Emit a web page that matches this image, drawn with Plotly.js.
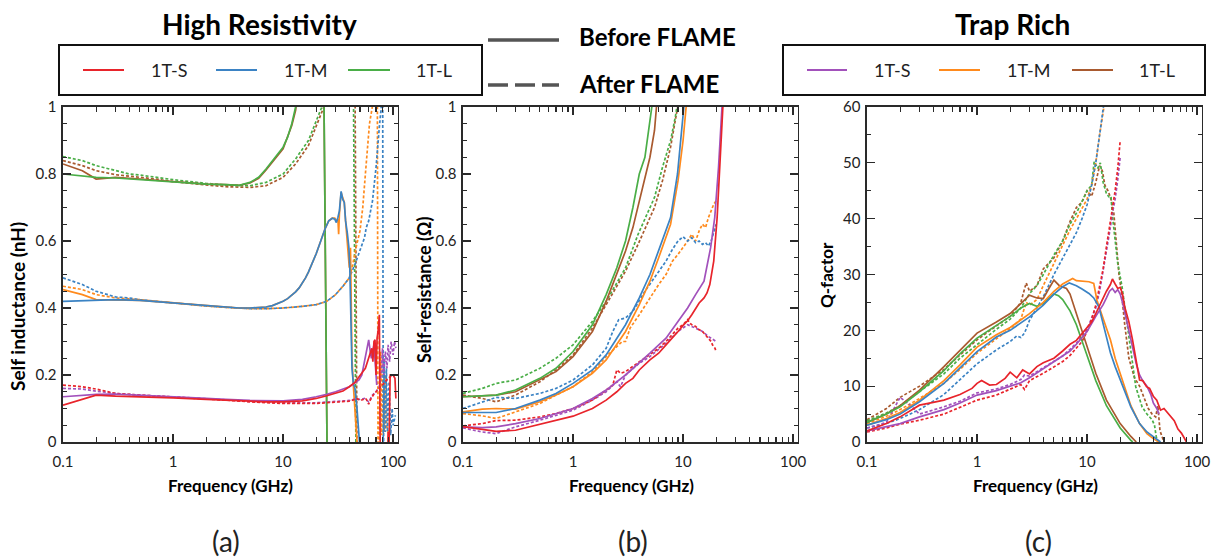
<!DOCTYPE html>
<html><head><meta charset="utf-8">
<script src="https://cdn.plot.ly/plotly-3.0.1.min.js"></script>
<style>html,body{margin:0;padding:0;background:#fff}#chart{width:1218px;height:559px}</style>
</head><body><div id="chart"></div>
<script>
// ---------- colours / series names ----------
const seriesNames = ['1T-S','1T-M','1T-L'];
const colHR = ['#e8242b','#3b83c4','#4aae47'];   // High Resistivity: S, M, L
const colTR = ['#a251bb','#ff8a1d','#a95a2f'];   // Trap Rich: S, M, L

// ================= (a) Self inductance (nH) =================
const a_hrS_pre_f = [0.1,0.2,0.3,0.5,1,2,3,5,7,10,15,20,25,30,35,40,43,45,48,50,53,56,58,60,62,64,65.5,67,68.5,70,71.5,73,75,76,77,88,90,92,94,100,104,106];
const a_hrS_pre   = [0.11,0.14,0.137,0.135,0.132,0.127,0.124,0.122,0.12,0.12,0.123,0.13,0.138,0.145,0.152,0.165,0.172,0.178,0.19,0.2,0.21,0.22,0.235,0.25,0.265,0.28,0.24,0.3,0.305,0.2,0.31,0.33,0.38,0.1,-0.2,-0.2,0.03,0.0,0.2,0.2,0.19,0.13];
const a_hrS_post_f = [0.1,0.15,0.2,0.3,0.5,1,2,3,5,10,20,30,40,44,46,48,50,53,55,57,59,60,62,64,66,70,75,80,85,90,95,100,106];
const a_hrS_post   = [0.17,0.165,0.158,0.145,0.14,0.135,0.13,0.125,0.12,0.115,0.115,0.118,0.122,0.126,0.13,0.128,0.125,0.126,0.13,0.128,0.115,0.113,0.125,0.135,0.14,0.15,0.16,0.17,0.18,0.19,0.195,0.2,0.2];
const a_hrM_pre_f = [0.1,0.2,0.3,0.5,1,2,3,4,5,6,7,8,9,10,11,12,13,14,15,16,17,18,19,20,22,24,26,28,29.5,30.5,31.5,32.5,33.7,34.8,36,37,38.4,39.6,40.4,41.2,42.3,43.5,45,47,49,52];
const a_hrM_pre   = [0.42,0.423,0.425,0.423,0.415,0.408,0.403,0.4,0.4,0.401,0.403,0.407,0.413,0.42,0.428,0.437,0.448,0.46,0.474,0.49,0.507,0.525,0.543,0.562,0.6,0.635,0.66,0.668,0.665,0.655,0.67,0.69,0.748,0.725,0.715,0.66,0.623,0.583,0.52,0.38,0.22,0.175,0.16,0.1,0.03,-0.1];
const a_hrM_post_f = [0.1,0.15,0.2,0.3,0.4,0.5,0.7,1,2,3,5,7,10,15,20,25,30,35,40,45,50,55,57,60,65,70,75,78,79,80,81.5,83,85,87,89,92,95,98,100,105];
const a_hrM_post   = [0.49,0.47,0.45,0.433,0.43,0.425,0.42,0.415,0.406,0.402,0.398,0.398,0.4,0.405,0.41,0.42,0.44,0.465,0.49,0.53,0.57,0.61,0.64,0.66,0.72,0.82,0.94,1.0,1.5,1.5,-0.1,0.25,0.03,0.22,0.03,0.18,0.02,0.1,0.05,0.08];
const a_hrL_pre_f = [0.1,0.15,0.2,0.3,0.5,0.7,1,1.5,2,3,4,5,6,7,8,10,11,12,13,15,18,21,23.5,25.1,27];
const a_hrL_pre   = [0.8,0.795,0.79,0.788,0.783,0.78,0.777,0.773,0.77,0.768,0.766,0.775,0.79,0.815,0.84,0.88,0.91,0.95,1.0,1.15,1.6,2.5,1.05,-0.02,-0.6];
const a_hrL_post_f = [0.1,0.15,0.2,0.3,0.4,0.5,0.7,1,2,3,5,7,10,13,17,20,22.5,24,30,40,43.5,46,48];
const a_hrL_post   = [0.852,0.84,0.825,0.81,0.8,0.797,0.79,0.783,0.772,0.767,0.765,0.775,0.8,0.845,0.9,0.955,1.0,1.05,1.5,1.5,1.1,-0.05,-0.5];

const a_trS_pre_f = [0.1,0.2,0.3,0.5,1,2,3,5,10,15,20,25,30,35,40,43,46,49,52,55,58,60,62,63.5,65,67,69,71];
const a_trS_pre   = [0.135,0.142,0.143,0.14,0.135,0.13,0.127,0.124,0.123,0.127,0.135,0.142,0.15,0.157,0.165,0.172,0.178,0.185,0.2,0.24,0.28,0.305,0.27,0.25,0.27,0.29,0.23,0.17];
const a_trS_post_f = [0.1,0.15,0.2,0.3,0.5,1,2,3,5,10,20,30,40,45,50,55,60,65,70,75,78,80,82,85,88,90,93,96,100,103,106];
const a_trS_post   = [0.16,0.158,0.152,0.145,0.14,0.135,0.13,0.126,0.121,0.117,0.117,0.12,0.124,0.128,0.127,0.13,0.12,0.14,0.15,0.165,0.2,0.28,0.2,0.27,0.22,0.29,0.24,0.3,0.26,0.3,0.28];
const a_trM_pre_f = [0.1,0.15,0.2,0.3,0.5,1,2,3,4,5,6,7,8,9,10,11,12,13,14,15,16,17,18,19,20,22,24,26,28,29.5,30.5,31.5,32,32.5,33.7,34.8,36,37,38.4,39.5,40,41,42.3,43.5,45,46,47,49];
const a_trM_pre   = [0.455,0.44,0.425,0.425,0.423,0.415,0.408,0.403,0.4,0.4,0.401,0.403,0.407,0.413,0.42,0.428,0.437,0.448,0.46,0.474,0.49,0.507,0.525,0.543,0.562,0.6,0.635,0.66,0.668,0.668,0.66,0.665,0.62,0.68,0.745,0.73,0.715,0.66,0.6,0.55,0.52,0.58,0.25,0.17,0.1,0.05,0.0,-0.2];
const a_trM_post_f = [0.1,0.15,0.2,0.3,0.5,1,2,3,5,7,10,15,20,25,30,35,40,43,46,50,53,56,58,61,64.7,66,71.5,73,75,77,79,81,83,85,87,90];
const a_trM_post   = [0.465,0.455,0.44,0.43,0.425,0.415,0.406,0.402,0.398,0.398,0.4,0.405,0.41,0.42,0.44,0.465,0.49,0.53,0.58,0.63,0.7,0.8,0.86,0.95,1.0,1.5,1.5,-0.1,0.02,0.27,0.02,0.25,0.03,0.2,0.05,0.03];
const a_trL_pre_f = [0.1,0.15,0.2,0.3,0.5,1,2,3,4,5,6,7,8,10,12,13,15,18,21,23.5,25.1,27];
const a_trL_pre   = [0.83,0.81,0.785,0.79,0.785,0.777,0.77,0.768,0.766,0.773,0.787,0.812,0.835,0.875,0.945,0.99,1.15,1.6,2.5,1.05,-0.02,-0.6];
const a_trL_post_f = [0.1,0.15,0.2,0.3,0.5,0.7,1,2,3,5,7,10,13,17,20,23.5,26,30,40,45,47,49];
const a_trL_post   = [0.84,0.825,0.81,0.798,0.79,0.785,0.777,0.767,0.762,0.76,0.765,0.79,0.83,0.885,0.94,1.0,1.1,1.5,1.5,1.1,-0.05,-0.5];

// ================= (b) Self-resistance (Ohm) =================
const b_hrS_pre_f = [0.1,0.15,0.2,0.3,0.4,0.5,0.7,1,1.5,2,2.5,3,3.5,4,5,6,7,8,9,10,11,12,13,14,15.5,16.5,17.5,19,20.4,21.8,23,24.5];
const b_hrS_pre   = [0.046,0.038,0.032,0.035,0.045,0.052,0.063,0.077,0.1,0.125,0.15,0.175,0.19,0.215,0.245,0.265,0.29,0.31,0.33,0.348,0.362,0.38,0.4,0.415,0.43,0.445,0.47,0.54,0.67,0.87,1.0,1.1];
const b_hrS_post_f = [0.1,0.15,0.2,0.3,0.5,0.7,1,1.5,2,2.3,2.5,2.7,3,3.5,4,5,6,7,8,9,10,11,11.5,12,13,14,15,15.5,16.5,17,18,18.5,19,19.5,20];
const b_hrS_post   = [0.048,0.055,0.064,0.065,0.075,0.085,0.1,0.125,0.155,0.17,0.215,0.205,0.21,0.225,0.24,0.26,0.28,0.3,0.32,0.34,0.35,0.365,0.355,0.35,0.345,0.335,0.33,0.325,0.315,0.31,0.3,0.29,0.285,0.28,0.27];
const b_hrM_pre_f = [0.1,0.15,0.2,0.3,0.5,0.7,1,1.5,2,3,4,5,6,7.7,8.9,9.6,10.3];
const b_hrM_pre   = [0.088,0.088,0.088,0.1,0.125,0.145,0.175,0.215,0.26,0.35,0.43,0.5,0.57,0.67,0.8,0.93,1.02];
const b_hrM_post_f = [0.1,0.15,0.2,0.3,0.5,0.7,1,1.5,2,2.3,2.6,3,3.5,4.5,5.5,7,8,9,10,11,12,13,14,15,16,17,18,19,20];
const b_hrM_post   = [0.1,0.12,0.133,0.13,0.145,0.16,0.185,0.23,0.28,0.33,0.365,0.37,0.39,0.45,0.49,0.54,0.575,0.6,0.613,0.6,0.61,0.595,0.6,0.59,0.595,0.585,0.6,0.625,0.65];
const b_hrL_pre_f = [0.1,0.15,0.2,0.3,0.5,0.7,1,1.5,2,2.5,3,3.5,4,4.5,5,5.3];
const b_hrL_pre   = [0.135,0.138,0.14,0.155,0.19,0.22,0.27,0.35,0.44,0.52,0.6,0.7,0.8,0.85,0.96,1.02];
const b_hrL_post_f = [0.1,0.15,0.2,0.3,0.5,0.7,1,1.5,2,3,3.9,5.5,6.5,7.7,8.5,9];
const b_hrL_post   = [0.145,0.16,0.175,0.185,0.22,0.25,0.29,0.36,0.42,0.52,0.62,0.73,0.82,0.9,0.97,1.02];

const b_trS_pre_f = [0.1,0.15,0.2,0.3,0.5,0.7,1,1.5,2,3,4,5,7,9,11,13,15.5,17.8,19.4,21,22.6,23.5];
const b_trS_pre   = [0.045,0.043,0.045,0.055,0.07,0.085,0.1,0.13,0.155,0.2,0.235,0.265,0.31,0.36,0.4,0.44,0.48,0.58,0.67,0.82,1.0,1.1];
const b_trS_post_f = [0.1,0.15,0.2,0.3,0.5,0.7,1,1.5,2,2.5,2.7,3,4,5,7,9,11,13,15,17,19,20];
const b_trS_post   = [0.042,0.03,0.025,0.045,0.065,0.08,0.095,0.125,0.15,0.18,0.165,0.2,0.235,0.255,0.295,0.33,0.35,0.34,0.33,0.315,0.305,0.3];
const b_trM_pre_f = [0.1,0.15,0.2,0.3,0.5,0.7,1,1.5,2,3,4,5,6,7.7,9,10,10.8];
const b_trM_pre   = [0.09,0.098,0.1,0.098,0.12,0.14,0.165,0.205,0.245,0.33,0.41,0.48,0.55,0.65,0.78,0.9,1.02];
const b_trM_post_f = [0.1,0.15,0.2,0.3,0.5,0.7,1,1.5,2,2.5,2.8,3,3.3,4,5,6,7,8,9,10,11,12,13,14,15,16,17,18,19,20];
const b_trM_post   = [0.085,0.078,0.07,0.09,0.115,0.14,0.165,0.21,0.255,0.285,0.3,0.3,0.34,0.38,0.43,0.47,0.5,0.54,0.56,0.58,0.6,0.62,0.6,0.63,0.65,0.64,0.67,0.69,0.71,0.72];
const b_trL_pre_f = [0.1,0.2,0.3,0.5,0.7,1,1.5,2,2.5,3,3.5,4,4.5,5,5.5,5.8];
const b_trL_pre   = [0.135,0.14,0.15,0.185,0.21,0.255,0.33,0.42,0.5,0.57,0.64,0.72,0.79,0.85,0.93,1.02];
const b_trL_post_f = [0.1,0.15,0.2,0.3,0.5,0.7,1,1.5,2,3,3.9,5.5,6.5,7.7,8.6,9.2];
const b_trL_post   = [0.14,0.13,0.12,0.14,0.18,0.215,0.26,0.34,0.41,0.51,0.59,0.7,0.78,0.88,0.97,1.02];

// ================= (c) Q-factor =================
const c_hrS_pre_f = [0.1,0.15,0.2,0.3,0.4,0.5,0.7,0.9,1,1.1,1.3,1.5,1.8,2,2.3,2.6,3,3.5,4,5,6,7,8,9,10,11,12,13,14,15,16.3,17,18,19,20,21,22,24,25.9,28,30,32,34.7,37,40,43,46.5,50,54,57.8,62,67,72,76,80];
const c_hrS_pre   = [2,3.3,4.5,6.6,7.1,7.5,8.5,9.6,10.5,11,10.2,10.3,11.4,12.5,11.5,12.9,12.2,13.5,14.2,15,16.3,17.5,18.2,19.4,20.5,21.5,23,24.5,25.8,27,28.2,29.2,28.3,27.5,27.7,26.5,24.2,21.5,18.3,14.5,11.1,11,9.9,9.6,8.2,7.5,5.7,6,5.2,4.5,3.8,2.3,1.6,0.8,0];
const c_hrS_post_f = [0.1,0.15,0.2,0.3,0.5,0.7,1,1.5,2,2.5,2.7,3,4,5,6,7,8,9,10,11,12,13,14,15,16,17,18,19,19.5,20];
const c_hrS_post   = [1.8,2.5,3.2,3.9,5,6.2,7.5,8.4,9.5,10.3,9.4,11,12.3,13.5,14.4,15.5,16.8,18,19.8,22,24.5,27.8,31,35,38.5,42,45,49,52,54];
const c_hrM_pre_f = [0.1,0.15,0.2,0.3,0.5,0.7,1,1.5,2,3,4,5,6,6.9,8,9,10.4,11.5,12.8,14.7,16.3,18,20,22.4,25,30,35,40,46.5];
const c_hrM_pre   = [3,4,5,7.2,10.5,13.3,16.2,18.8,20,22.4,24.5,26.5,27.8,28.5,28,27.4,26.6,25.8,24.2,19.5,16,13.5,11,8.7,6.3,3.3,1.8,1,0];
const c_hrM_post_f = [0.1,0.15,0.2,0.3,0.5,0.7,1,1.5,2,2.3,2.5,2.7,3,3.5,4,5,6,7,8,9,10,11,12,13,13.8,14.3];
const c_hrM_post   = [2.5,3.3,4.2,5.8,8.5,11.2,14,16.5,18,19,18.7,19.5,21.8,24,26,30,33,35.5,37.5,40,42.5,46,50,55,59,61];
const c_hrL_pre_f = [0.1,0.15,0.2,0.3,0.5,0.7,1,1.5,2,2.5,3,3.5,4,4.5,5,5.5,6,7,8,10,12,15,20,25,26];
const c_hrL_pre   = [3.5,5,6.3,9,12.8,15.8,18.6,20.8,22.5,24,24.8,24.3,24.8,25.7,26.5,26.2,25.5,23.5,21,15.5,11,6.5,2.5,0.3,0];
const c_hrL_post_f = [0.1,0.15,0.2,0.3,0.5,0.7,1,1.5,2,2.5,3,3.5,4,5,6,7,8,9,10,11,11.6,12.5,13.2,14,15,15.8,16.5,17,18.1,19,20.8,22.4,24,27.7,31.6,35,39,41,42.5,44];
const c_hrL_post   = [3.8,5.2,6.5,9,12.2,15,17.5,20.2,22,24,26.6,28,30,33.5,36,39,41,43,45,46,50.2,49,50,46.5,44.5,43.9,44,40.5,36.2,32,27.8,23,18.3,9.9,6.3,5,4,3,1,0];

const c_trS_pre_f = [0.1,0.15,0.2,0.3,0.5,0.7,1,1.5,2,2.5,3,4,5,6,7,8,10,12,14,15,16,17,18,19,20,21,22,24,26,28,30,32,35,38,40,43,45];
const c_trS_pre   = [2,2.7,3.3,4.5,5.8,7,8.4,9.2,10,10.6,11.5,13.1,14.3,15.3,16.3,17.5,19.8,22.5,24.6,25.8,27,27.5,26.8,27.3,26.5,25,23.2,20,16.5,14,12,11,10,8.5,7,6,5];
const c_trS_post_f = [0.1,0.15,0.2,0.25,0.3,0.5,0.7,1,1.5,2,2.5,2.7,3,4,5,6,7,8,10,12,13,14,15,16,17,18,19,20];
const c_trS_post   = [2.5,3.5,8,6.5,5,6.3,7.3,8.8,9.5,10.3,11.2,12,11.8,13.3,14.5,15.4,16.6,17.7,20.2,24,27,30.5,34,37.5,41,43.5,47,51];
const c_trM_pre_f = [0.1,0.15,0.2,0.3,0.5,0.7,1,1.5,2,3,4,5,6,7,7.4,8,9,10.4,11.5,12.3,13.5,14.7,16.3,18,19.9,22,25,30,35,40,45];
const c_trM_pre   = [3,4.2,5.3,7.5,11,13.8,17,19.2,20.5,23,25,27,28.3,29,29.3,28.9,28.8,28.7,28.4,25.4,23,20.7,18.3,15,12.3,9.5,6.5,3.3,1.5,0.6,0];
const c_trM_post_f = [0.1,0.15,0.2,0.3,0.5,0.7,1,1.5,2,2.5,2.8,3,3.5,4,5,6,7,8,9,10,11,12,13,14,14.5];
const c_trM_post   = [3.3,4.6,5.8,7.8,10.5,13,15.9,18.5,20.3,22,25,24.5,25.5,28,32,35.5,38,40,42,43.5,46,50,55,58.5,61];
const c_trL_pre_f = [0.1,0.15,0.2,0.3,0.5,0.7,1,1.5,2,2.5,3,3.5,4,4.5,5,5.6,6.5,7,8,9,10,12,15,20,25,28];
const c_trL_pre   = [3.5,5,6.5,9.3,13.5,16.5,19.5,21.5,23,24.8,26.3,25.8,25.7,27.5,29,28,27.5,26.5,23,20,17,12.3,7.5,3.3,1,0];
const c_trL_post_f = [0.1,0.15,0.2,0.3,0.5,0.7,1,1.5,2,2.5,2.8,3,3.5,4,5,6,7,8,9,10,11,12,13,13.8,14.5,15.5,16.5,17.5,18.5,19.5,20.5,22,24,27,30,33,36,39,42,44,46,48,50];
const c_trL_post   = [4,6,8,10,13,15.5,18.3,20.8,22.5,25,28.5,27,28,31,33,36,39.5,42,43,45,44,46.5,49.5,48.5,46,45,43.5,41,35,30,27,21,15,11.5,10,8,6,5,4.5,6.5,2,1,0];

// ---------- tick labels / texts ----------
const xTickVals = [0.1,1,10,100];
const xTickText = ['0.1','1','10','100'];
const xMinorVals = [0.2,0.3,0.4,0.5,0.6,0.7,0.8,0.9,2,3,4,5,6,7,8,9,20,30,40,50,60,70,80,90];
const panelTitles = ['High Resistivity','Trap Rich'];
const yTitles = ['Self inductance (nH)','Self-resistance (Ω)','Q-factor'];
const xTitle = 'Frequency (GHz)';
const panelLabels = ['(a)','(b)','(c)'];
const flameLabels = ['Before FLAME','After FLAME'];

// ---------- build traces ----------
const W = 1218, H = 559;
const PX = x => x / W, PY = y => 1 - y / H;
const traces = [];
function add(f, v, color, dash, ax){
  traces.push({x:f, y:v, type:'scatter', mode:'lines', xaxis:'x'+ax, yaxis:'y'+ax,
    line:{color:color, width:1.7, dash: dash ? '3px,2px' : 'solid'}, hoverinfo:'skip', showlegend:false});
}
// panel a
add(a_trL_post_f,a_trL_post,colTR[2],1,'');
add(a_hrL_post_f,a_hrL_post,colHR[2],1,'');
add(a_trL_pre_f,a_trL_pre,colTR[2],0,'');
add(a_hrL_pre_f,a_hrL_pre,colHR[2],0,'');
add(a_trM_post_f,a_trM_post,colTR[1],1,'');
add(a_hrM_post_f,a_hrM_post,colHR[1],1,'');
add(a_trM_pre_f,a_trM_pre,colTR[1],0,'');
add(a_hrM_pre_f,a_hrM_pre,colHR[1],0,'');
add(a_trS_post_f,a_trS_post,colTR[0],1,'');
add(a_hrS_post_f,a_hrS_post,colHR[0],1,'');
add(a_trS_pre_f,a_trS_pre,colTR[0],0,'');
add(a_hrS_pre_f,a_hrS_pre,colHR[0],0,'');
// panel b
add(b_trL_post_f,b_trL_post,colTR[2],1,'2');
add(b_hrL_post_f,b_hrL_post,colHR[2],1,'2');
add(b_trL_pre_f,b_trL_pre,colTR[2],0,'2');
add(b_hrL_pre_f,b_hrL_pre,colHR[2],0,'2');
add(b_trM_post_f,b_trM_post,colTR[1],1,'2');
add(b_hrM_post_f,b_hrM_post,colHR[1],1,'2');
add(b_trM_pre_f,b_trM_pre,colTR[1],0,'2');
add(b_hrM_pre_f,b_hrM_pre,colHR[1],0,'2');
add(b_trS_post_f,b_trS_post,colTR[0],1,'2');
add(b_hrS_post_f,b_hrS_post,colHR[0],1,'2');
add(b_trS_pre_f,b_trS_pre,colTR[0],0,'2');
add(b_hrS_pre_f,b_hrS_pre,colHR[0],0,'2');
// panel c
add(c_trL_post_f,c_trL_post,colTR[2],1,'3');
add(c_hrL_post_f,c_hrL_post,colHR[2],1,'3');
add(c_trM_post_f,c_trM_post,colTR[1],1,'3');
add(c_hrM_post_f,c_hrM_post,colHR[1],1,'3');
add(c_trS_post_f,c_trS_post,colTR[0],1,'3');
add(c_hrS_post_f,c_hrS_post,colHR[0],1,'3');
add(c_trL_pre_f,c_trL_pre,colTR[2],0,'3');
add(c_hrL_pre_f,c_hrL_pre,colHR[2],0,'3');
add(c_trM_pre_f,c_trM_pre,colTR[1],0,'3');
add(c_hrM_pre_f,c_hrM_pre,colHR[1],0,'3');
add(c_trS_pre_f,c_trS_pre,colTR[0],0,'3');
add(c_hrS_pre_f,c_hrS_pre,colHR[0],0,'3');

// ---------- axes ----------
const FONT = 'Lato, "Open Sans", sans-serif';
const axisCol = '#2a2a2a';
function xAx(x0, x1, anchor){
  return {type:'log', range:[-1, 2.04], domain:[PX(x0), PX(x1)], anchor:anchor,
    showline:true, linecolor:axisCol, linewidth:1.6, mirror:'ticks',
    ticks:'inside', ticklen:8, tickwidth:1.3, tickcolor:axisCol,
    tickmode:'array', tickvals:xTickVals, ticktext:xTickText, ticklabelstandoff:5,
    minor:{tickmode:'array', tickvals:xMinorVals, ticks:'inside', ticklen:5, tickwidth:1.1, tickcolor:axisCol, showgrid:false},
    showgrid:false, zeroline:false, fixedrange:true,
    tickfont:{family:FONT, size:15, color:'#222'}};
}
function yAx(anchor, max, dt, mdt){
  return {range:[0, max], domain:[PY(442), PY(107)], anchor:anchor,
    showline:true, linecolor:axisCol, linewidth:1.6, mirror:'ticks',
    ticks:'inside', ticklen:8, tickwidth:1.3, tickcolor:axisCol, dtick:dt, tick0:0,
    minor:{dtick:mdt, ticks:'inside', ticklen:4, tickwidth:1.1, tickcolor:axisCol, showgrid:false},
    showgrid:false, zeroline:false, fixedrange:true, ticklabelstandoff:2,
    tickfont:{family:FONT, size:15, color:'#222'}};
}

// ---------- annotations / shapes ----------
const ann = [];
const shapes = [];
function txt(t, x, y, size, bold, xanchor, angle){
  ann.push({text: bold ? '<b>'+t+'</b>' : t, xref:'paper', yref:'paper', x:PX(x), y:PY(y),
    xanchor: xanchor || 'center', yanchor:'middle', showarrow:false, textangle: angle || 0,
    font:{family:FONT, size:size, color: bold ? '#000' : '#222'}});
}
function seg(x0, x1, y, color, w, dash){
  shapes.push({type:'line', xref:'paper', yref:'paper', x0:PX(x0), x1:PX(x1), y0:PY(y), y1:PY(y),
    line:{color:color, width:w, dash: dash || 'solid'}});
}
function box(x0, x1, y0, y1){
  shapes.push({type:'rect', xref:'paper', yref:'paper', x0:PX(x0), x1:PX(x1), y0:PY(y1), y1:PY(y0),
    line:{color:'#111', width:2}, fillcolor:'rgba(0,0,0,0)'});
}
// panel titles
txt(panelTitles[0], 259, 24, 28, true);
txt(panelTitles[1], 1012, 24, 28, true);
// legend boxes
box(59, 482, 45, 95);
box(783, 1205, 45, 95);
const legA = [[83,124,149],[216,257,282],[348,390,414]];
const legC = [[807,847,872],[939,980,1005],[1072,1113,1137]];
for (let i = 0; i < 3; i++){
  seg(legA[i][0], legA[i][1], 70, colHR[i], 2);
  txt(seriesNames[i], legA[i][2], 70, 18, false, 'left');
  seg(legC[i][0], legC[i][1], 70, colTR[i], 2);
  txt(seriesNames[i], legC[i][2], 70, 18, false, 'left');
}
// FLAME legend
seg(488, 559, 40, '#555', 3.5);
seg(488, 559, 85, '#555', 3.5, '20px,7px');
txt(flameLabels[0], 577, 37, 24, true, 'left');
txt(flameLabels[1], 577, 84, 24, true, 'left');
// axis titles
txt(xTitle, 230, 485, 17, true);
txt(xTitle, 631, 485, 17, true);
txt(xTitle, 1035, 485, 17, true);
txt(yTitles[0], 17, 307, 19, true, 'center', -90);
txt(yTitles[1], 424, 290, 18, true, 'center', -90);
txt(yTitles[2], 826, 275, 17, true, 'center', -90);
// panel labels
txt(panelLabels[0], 226, 541, 28, false);
txt(panelLabels[1], 633, 541, 28, false);
txt(panelLabels[2], 1038, 541, 28, false);

const layout = {
  width:W, height:H, margin:{l:0, r:0, t:0, b:0},
  paper_bgcolor:'#fff', plot_bgcolor:'#fff', showlegend:false,
  xaxis: xAx(63, 397.5, 'y'),
  yaxis: yAx('x', 1, 0.2, 0.05),
  xaxis2: xAx(463, 797.5, 'y2'),
  yaxis2: yAx('x2', 1, 0.2, 0.05),
  xaxis3: xAx(867, 1201.5, 'y3'),
  yaxis3: yAx('x3', 60, 10, 5),
  annotations: ann, shapes: shapes
};
Plotly.newPlot('chart', traces, layout, {staticPlot:true, displayModeBar:false});
</script></body></html>
